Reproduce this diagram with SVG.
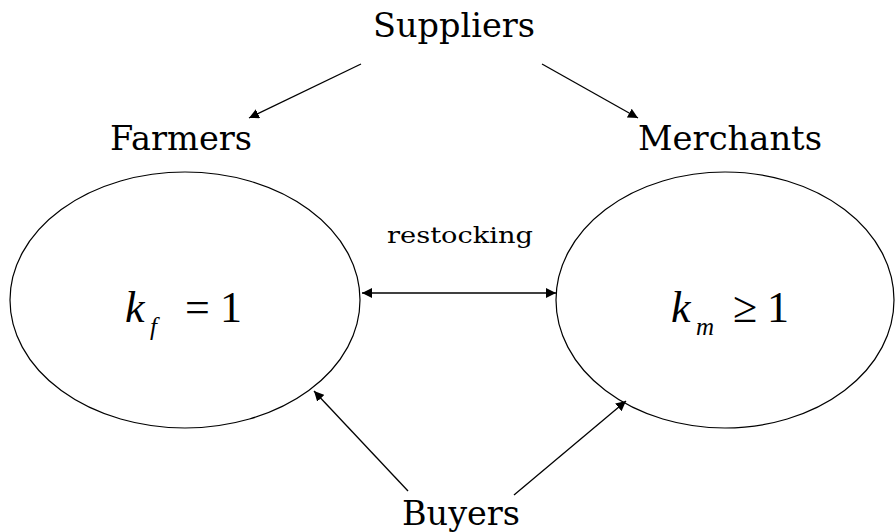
<svg xmlns="http://www.w3.org/2000/svg" width="896" height="532" viewBox="0 0 896 532">
  <style>
    .lbl { font-family: "DejaVu Serif", serif; font-size: 33px; fill: #000; }
    .small { font-family: "DejaVu Serif", serif; font-size: 23px; fill: #000; }
    .math { font-family: "Liberation Serif", serif; font-size: 44px; fill: #000; }
    .it { font-style: italic; }
    .sub { font-family: "Liberation Serif", serif; font-size: 25px; font-style: italic; fill: #000; }
    .node { fill: #fff; stroke: #000; stroke-width: 1.2; }
    .edge { stroke: #000; stroke-width: 1.3; fill: none; }
  </style>
  <defs>
    <marker id="head" viewBox="0 0 10 10" refX="10" refY="5" markerWidth="10" markerHeight="10" markerUnits="userSpaceOnUse" orient="auto-start-reverse">
      <path d="M0,0 L10,5 L0,10 z" fill="#000"/>
    </marker>
  </defs>

  <rect width="896" height="532" fill="#fff"/>

  <g id="suppliers">
    <text class="lbl" x="454" y="37" text-anchor="middle" textLength="162" lengthAdjust="spacingAndGlyphs">Suppliers</text>
  </g>
  <g id="farmers">
    <text class="lbl" x="181" y="150" text-anchor="middle" textLength="142" lengthAdjust="spacingAndGlyphs">Farmers</text>
  </g>
  <g id="merchants">
    <text class="lbl" x="730" y="150" text-anchor="middle" textLength="184" lengthAdjust="spacingAndGlyphs">Merchants</text>
  </g>
  <g id="buyers">
    <text class="lbl" x="461" y="525" text-anchor="middle" textLength="118" lengthAdjust="spacingAndGlyphs">Buyers</text>
  </g>

  <!-- pool of farmers: capacity k_f = 1 -->
  <g id="farmer-pool">
    <ellipse class="node" cx="185" cy="300" rx="175" ry="128"/>
    <text class="math it" x="125" y="322">k</text>
    <text class="sub" x="150" y="335">f</text>
    <text class="math" x="185" y="322">=</text>
    <text class="math" x="220" y="322">1</text>
  </g>

  <!-- pool of merchants: capacity k_m >= 1 -->
  <g id="merchant-pool">
    <ellipse class="node" cx="725" cy="300" rx="169" ry="128"/>
    <text class="math it" x="671" y="322">k</text>
    <text class="sub" x="696" y="335">m</text>
    <text class="math" x="733" y="322">≥</text>
    <text class="math" x="767" y="322">1</text>
  </g>

  <g id="connectors">
    <line class="edge" x1="361" y1="64" x2="249" y2="118" marker-end="url(#head)"/>
    <line class="edge" x1="542" y1="64" x2="638" y2="118" marker-end="url(#head)"/>
    <line class="edge" x1="362" y1="293" x2="556" y2="293" marker-start="url(#head)" marker-end="url(#head)"/>
    <line class="edge" x1="408" y1="491" x2="314" y2="391" marker-end="url(#head)"/>
    <line class="edge" x1="514" y1="495" x2="626" y2="401" marker-end="url(#head)"/>
    <text class="small" x="460" y="243" text-anchor="middle" textLength="146" lengthAdjust="spacingAndGlyphs">restocking</text>
  </g>
</svg>
